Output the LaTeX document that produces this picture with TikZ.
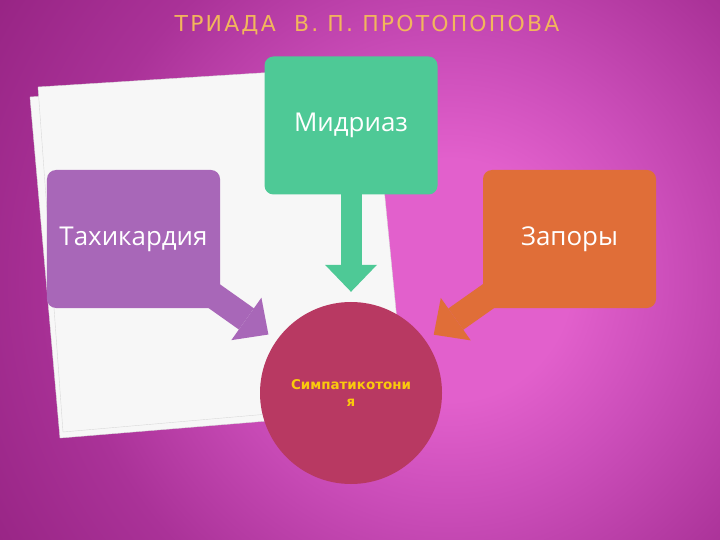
\documentclass[tikz,border=0pt]{standalone}
\usepackage{fontspec}
\setmainfont{Open Sans}
\newfontfamily\titlefont[LetterSpace=10]{DejaVu Sans}
\newfontfamily\signfont{DejaVu Sans}
\usetikzlibrary{arrows.meta}
\pgfdeclarelayer{back}
\pgfdeclarelayer{mid}
\pgfsetlayers{back,mid,main}
\definecolor{glowin}{RGB}{226,96,204}
\definecolor{glowhalf}{RGB}{204,78,186}
\definecolor{glowmid}{RGB}{170,50,152}
\definecolor{glowout}{RGB}{136,25,116}
\definecolor{mintgreen}{RGB}{78,201,150}
\definecolor{lilac}{RGB}{168,103,184}
\definecolor{carrot}{RGB}{224,110,56}
\definecolor{raspberry}{RGB}{184,57,98}
\definecolor{sunyellow}{RGB}{250,202,12}
\definecolor{oldgold}{RGB}{242,182,92}
\pgfdeclareradialshading{slideglow}{\pgfpoint{0bp}{0bp}}{color(0bp)=(glowin); color(4.3bp)=(glowin); color(7.9bp)=(glowhalf); color(13.6bp)=(glowmid); color(23.6bp)=(glowout); color(50bp)=(glowout)}

\begin{document}
\begin{tikzpicture}[x=1bp,y=-1bp,
  slidebox/.style={rectangle,rounded corners=9bp,minimum width=173bp,minimum height=138bp,
    inner sep=0pt,text=white,font=\fontsize{26}{30}\selectfont},
  blockarrow/.style={shorten >=10bp,
    -{Triangle[width=52bp,length=27bp,line width=0pt]}}]
\useasboundingbox (0,0) rectangle (720,540);
\begin{pgfonlayer}{back}
\clip (0,0) rectangle (720,540);
\fill[glowout] (0,0) rectangle (720,540);
\shade[shading=slideglow] (450,280) circle (700);
\foreach \ax/\ay/\bx/\by/\cx/\cy/\dx/\dy in {30/97/366/74/401/410/60/438, 38/87/372/66/405/402/63/432} {
  \draw[gray!30,fill=white!97!black] (\ax,\ay) -- (\bx,\by) -- (\cx,\cy) -- (\dx,\dy) -- cycle;
}
\end{pgfonlayer}

\node[text=oldgold,font=\titlefont\fontsize{22}{26}\selectfont] (title) at (367,25) {ТРИАДА\ \ В. П. ПРОТОПОПОВА};

\node[slidebox,fill=mintgreen] (mydriasis) at (351,125.5) {Мидриаз};
\node[slidebox,fill=lilac] (tachy) at (133.5,239) {Тахикардия};
\node[slidebox,fill=carrot] (constip) at (569.5,239) {Запоры};
\node[circle,fill=raspberry,minimum size=182bp,inner sep=0pt,align=center,text=sunyellow,
  font=\signfont\bfseries\fontsize{13.5}{18}\selectfont] (sympath) at (351,393) {Симпатикотони\\я};

\begin{pgfonlayer}{mid}
\foreach \src/\col/\w in {mydriasis/mintgreen/21, tachy/lilac/26, constip/carrot/26} {
  \draw[blockarrow,\col,line width=\w bp] (\src.center) -- (sympath);
}
\end{pgfonlayer}
\end{tikzpicture}
\end{document}
